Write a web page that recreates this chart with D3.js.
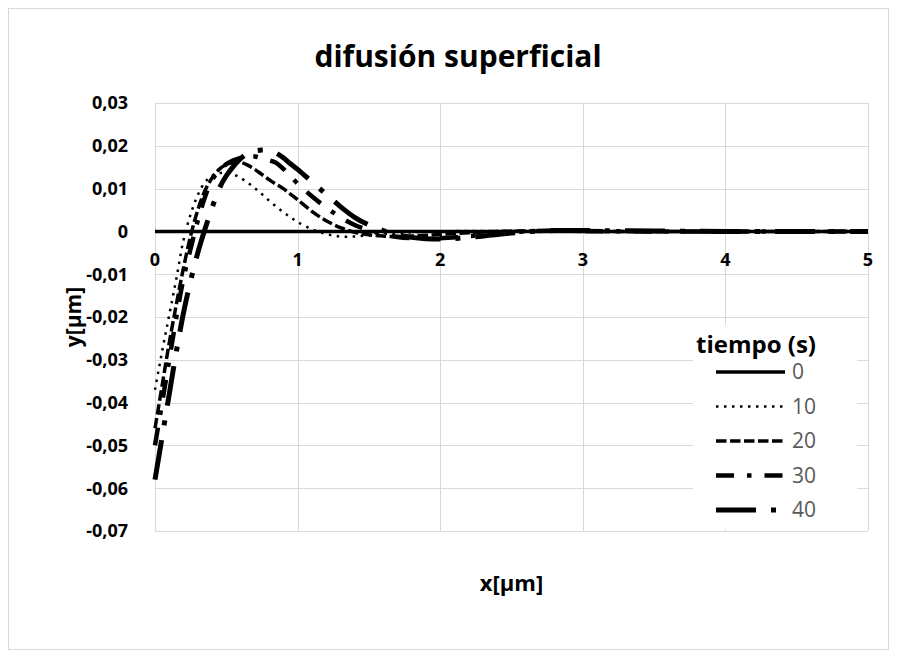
<!DOCTYPE html>
<html>
<head>
<meta charset="utf-8">
<script src="https://cdn.jsdelivr.net/npm/d3@7"></script>
<style>
  body { margin: 0; background: #fff; }
  svg { display: block; font-family: "Open Sans", sans-serif; }
  .grid line { stroke: #d9d9d9; stroke-width: 1px; }
  .tick-label { font-weight: bold; font-size: 18px; fill: #000; }
  .series { fill: none; stroke: #000; stroke-linejoin: round; }
  .legend-label { font-size: 21px; fill: #595959; }
</style>
</head>
<body>
<svg id="chart"></svg>
<script>
// x positions shared by every curve [µm]
const xValues = [0, 0.05, 0.1, 0.15, 0.2, 0.25, 0.3, 0.35, 0.4, 0.45, 0.5, 0.55, 0.6, 0.65, 0.7, 0.75, 0.8, 0.85, 0.9, 0.95,
  1.0, 1.1, 1.2, 1.3, 1.4, 1.5, 1.6, 1.7, 1.8, 1.9, 2.0, 2.2, 2.4, 2.6, 2.8, 3.0, 3.5, 4.0, 4.5, 5.0];

// y [µm] per time step
const y0 = xValues.map(() => 0);
const y10 = [-0.037, -0.028, -0.0195, -0.011, -0.002, 0.004, 0.0085, 0.0115, 0.013, 0.0136, 0.0137, 0.0133, 0.0125, 0.0114, 0.0101, 0.0087, 0.0072, 0.0058, 0.0045, 0.0033,
  0.0022, 0.0005, -0.0006, -0.0012, -0.0012, -0.0009, -0.0006, -0.0004, -0.0002, -0.0001, 0, 0.0001, 0.0001, 0.0001, 0, 0, 0, 0, 0, 0];
const y20 = [-0.046, -0.036, -0.026, -0.017, -0.0085, -0.001, 0.005, 0.0095, 0.0125, 0.0145, 0.0156, 0.0161, 0.0161, 0.0155, 0.0145, 0.0133, 0.0121, 0.011, 0.01, 0.0087,
  0.0074, 0.0047, 0.0025, 0.0009, -0.0002, -0.0008, -0.0011, -0.0012, -0.0011, -0.0009, -0.0007, -0.0003, 0, 0.0001, 0.0001, 0, 0, 0, 0, 0];
const y30 = [-0.05, -0.04, -0.03, -0.02, -0.011, -0.004, 0.0025, 0.008, 0.012, 0.0142, 0.0157, 0.0166, 0.0172, 0.0175, 0.0175, 0.0171, 0.0166, 0.016, 0.0146, 0.0129,
  0.0112, 0.0082, 0.0056, 0.0033, 0.0015, 0.0003, -0.0007, -0.0013, -0.0016, -0.0017, -0.0016, -0.0011, -0.0005, 0, 0.0002, 0.0001, 0, 0, 0, 0];
const y40 = [-0.058, -0.048, -0.038, -0.028, -0.019, -0.0115, -0.005, 0.0005, 0.0055, 0.01, 0.013, 0.0152, 0.017, 0.0182, 0.0188, 0.019, 0.0189, 0.0183, 0.0172, 0.0158,
  0.0145, 0.0116, 0.0087, 0.0058, 0.0033, 0.0015, 0.0002, -0.0008, -0.0014, -0.0017, -0.0018, -0.0014, -0.0007, -0.0001, 0.0002, 0.0002, 0.0001, 0, 0, 0];

const seriesNames = ["0", "10", "20", "30", "40"];
const seriesValues = [y0, y10, y20, y30, y40];
const xTicks = [0, 1, 2, 3, 4, 5];
const yTicks = [0.03, 0.02, 0.01, 0, -0.01, -0.02, -0.03, -0.04, -0.05, -0.06, -0.07];

// line looks, same order as seriesNames
const strokeWidths = [3.5, 2.5, 3.5, 4.5, 5];
const dashes = ["none", "2.5 5.5", "10.5 3.5", "18 13 4.5 13", "40 15 5 15"];

const width = 897, height = 658;
const plot = { left: 155, right: 868, top: 103, bottom: 531 };

const svg = d3.select("#chart").attr("width", width).attr("height", height);

// chart border
svg.append("rect")
  .attr("x", 8.5).attr("y", 8.5)
  .attr("width", 880).attr("height", 641)
  .attr("fill", "#fff").attr("stroke", "#d9d9d9");

const x = d3.scaleLinear().domain([0, 5]).range([plot.left, plot.right]);
const y = d3.scaleLinear().domain([-0.07, 0.03]).range([plot.bottom, plot.top]);

const fmt = v => (v === 0 ? "0" : d3.format(".2f")(v).replace(".", ",").replace("−", "-"));

// gridlines
const grid = svg.append("g").attr("class", "grid");
grid.selectAll(".gy").data(yTicks).enter().append("line")
  .attr("x1", plot.left).attr("x2", plot.right)
  .attr("y1", d => Math.round(y(d)) + 0.5).attr("y2", d => Math.round(y(d)) + 0.5);
grid.selectAll(".gx").data(xTicks).enter().append("line")
  .attr("x1", d => Math.round(x(d)) + 0.5).attr("x2", d => Math.round(x(d)) + 0.5)
  .attr("y1", plot.top).attr("y2", plot.bottom);

// tick labels
svg.append("g").selectAll("text").data(yTicks).enter().append("text")
  .attr("class", "tick-label")
  .attr("x", 128).attr("y", d => y(d)).attr("dy", "0.35em")
  .attr("text-anchor", "end")
  .text(fmt);

svg.append("g").selectAll("text").data(xTicks).enter().append("text")
  .attr("class", "tick-label")
  .attr("x", d => x(d)).attr("y", y(0) + 35)
  .attr("text-anchor", "middle")
  .text(d => d);

// series
const line = d3.line()
  .x((d, i) => x(xValues[i]))
  .y(d => y(d))
  .curve(d3.curveCatmullRom);

svg.append("g").selectAll("path").data(seriesValues).enter().append("path")
  .attr("class", "series")
  .attr("d", line)
  .attr("stroke-width", (d, i) => strokeWidths[i])
  .attr("stroke-dasharray", (d, i) => dashes[i]);

// titles
svg.append("text")
  .attr("x", 458).attr("y", 67)
  .attr("text-anchor", "middle")
  .style("font-weight", "bold").style("font-size", "30px")
  .text("difusión superficial");

svg.append("text")
  .attr("x", (plot.left + plot.right) / 2).attr("y", 591)
  .attr("text-anchor", "middle")
  .style("font-weight", "bold").style("font-size", "22px")
  .text("x[µm]");

svg.append("text")
  .attr("transform", `translate(81,${(plot.top + plot.bottom) / 2}) rotate(-90)`)
  .attr("text-anchor", "middle")
  .style("font-weight", "bold").style("font-size", "21px")
  .text("y[µm]");

// legend
const legend = svg.append("g").attr("transform", "translate(693,325)");
legend.append("rect").attr("width", 164).attr("height", 204).attr("fill", "#fff");
legend.append("text")
  .attr("x", 3).attr("y", 28)
  .style("font-weight", "bold").style("font-size", "24px")
  .text("tiempo (s)");

const rows = legend.selectAll(".row").data(seriesNames).enter().append("g")
  .attr("transform", (d, i) => `translate(0,${47 + i * 34.5})`);
rows.append("line")
  .attr("x1", 23).attr("x2", 92)
  .attr("stroke", "#000")
  .attr("stroke-width", (d, i) => strokeWidths[i])
  .attr("stroke-dasharray", (d, i) => dashes[i]);
rows.append("text")
  .attr("class", "legend-label")
  .attr("x", 99).attr("dy", "0.35em")
  .text(d => d);
</script>
</body>
</html>
